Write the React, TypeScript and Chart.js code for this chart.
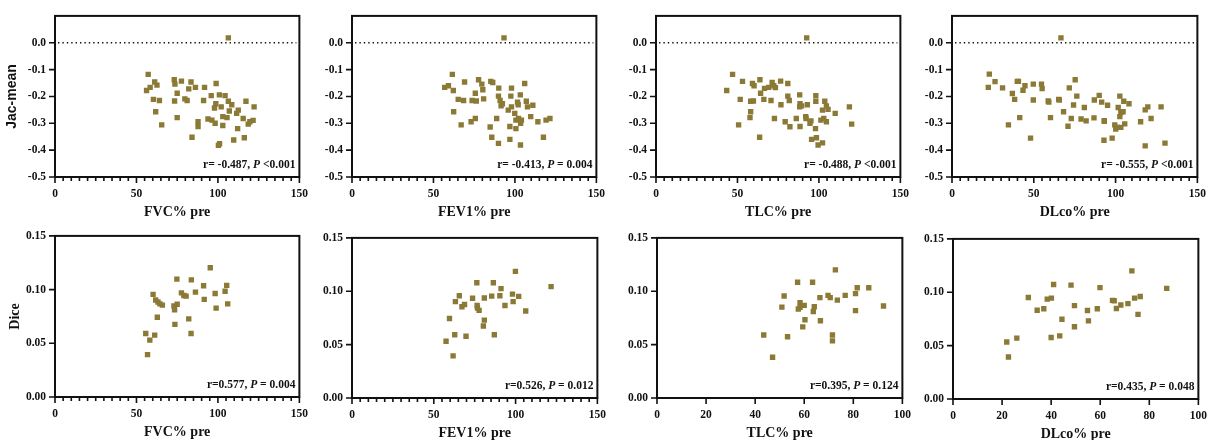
import React, { useEffect, useRef } from 'react';
import { Chart, registerables } from 'chart.js';

Chart.register(...registerables);

type Pt = [number, number];

// ---------- data ----------
const fvcJac: Pt[] = [
  [106.4, 0.018], [57.2, -0.118], [56.2, -0.178], [58.4, -0.166], [61.2, -0.146], [62.6, -0.158],
  [60.4, -0.211], [64.1, -0.215], [61.8, -0.257], [65.5, -0.306], [73.2, -0.138], [73.6, -0.154],
  [77.6, -0.143], [75.0, -0.188], [73.4, -0.217], [75.0, -0.279], [79.7, -0.209], [81.1, -0.215],
  [83.5, -0.146], [82.1, -0.172], [86.2, -0.166], [84.1, -0.352], [91.8, -0.166], [91.2, -0.215],
  [87.8, -0.294], [87.8, -0.312], [98.9, -0.152], [95.9, -0.197], [93.9, -0.284], [96.3, -0.288],
  [98.3, -0.300], [97.9, -0.243], [98.7, -0.227], [100.9, -0.194], [102.0, -0.239], [103.0, -0.275],
  [103.0, -0.308], [101.0, -0.376], [100.3, -0.382], [104.4, -0.197], [105.6, -0.279], [106.4, -0.218],
  [107.0, -0.254], [108.5, -0.231], [109.7, -0.362], [111.5, -0.263], [112.5, -0.251], [112.1, -0.320],
  [115.5, -0.282], [116.2, -0.354], [117.2, -0.218], [118.6, -0.303], [119.6, -0.294], [121.6, -0.289],
  [122.2, -0.239],
];

const fev1Jac: Pt[] = [
  [93.3, 0.018], [56.9, -0.166], [59.2, -0.160], [61.6, -0.118], [62.2, -0.178], [62.4, -0.257],
  [65.2, -0.211], [68.5, -0.215], [69.1, -0.146], [67.0, -0.306], [73.1, -0.294], [73.7, -0.215],
  [75.7, -0.188], [76.3, -0.217], [75.7, -0.282], [77.7, -0.138], [79.7, -0.154], [80.3, -0.175],
  [80.8, -0.209], [85.2, -0.144], [86.4, -0.148], [84.8, -0.314], [85.8, -0.352], [88.8, -0.282],
  [89.9, -0.375], [90.1, -0.169], [89.9, -0.199], [90.9, -0.215], [91.5, -0.235], [92.3, -0.227],
  [95.9, -0.251], [97.9, -0.169], [97.5, -0.199], [97.9, -0.239], [96.9, -0.312], [96.9, -0.360],
  [99.9, -0.263], [100.6, -0.288], [100.6, -0.320], [101.6, -0.221], [102.0, -0.231], [103.3, -0.194],
  [102.2, -0.282], [103.5, -0.300], [103.4, -0.381], [104.0, -0.288], [106.0, -0.152], [107.0, -0.218],
  [107.7, -0.239], [109.7, -0.275], [111.0, -0.233], [114.1, -0.294], [117.5, -0.352], [119.1, -0.288],
  [121.5, -0.282],
];

const tlcJac: Pt[] = [
  [92.5, 0.018], [43.4, -0.178], [47.0, -0.118], [51.7, -0.211], [53.1, -0.144], [50.7, -0.306],
  [58.1, -0.218], [59.2, -0.152], [60.2, -0.160], [59.8, -0.217], [58.1, -0.257], [57.7, -0.279],
  [63.8, -0.138], [64.2, -0.188], [66.2, -0.211], [66.6, -0.170], [63.6, -0.352], [69.2, -0.166],
  [70.6, -0.215], [71.3, -0.148], [72.3, -0.160], [73.3, -0.167], [72.7, -0.282], [76.5, -0.143],
  [76.7, -0.231], [79.3, -0.294], [80.9, -0.152], [80.9, -0.199], [81.8, -0.215], [82.2, -0.313],
  [86.1, -0.282], [88.2, -0.194], [88.4, -0.227], [88.2, -0.239], [88.4, -0.312], [89.4, -0.235],
  [91.9, -0.275], [92.9, -0.231], [92.1, -0.282], [94.5, -0.300], [95.1, -0.291], [95.5, -0.360],
  [98.1, -0.197], [98.1, -0.218], [97.9, -0.320], [98.5, -0.354], [99.5, -0.381], [101.2, -0.288],
  [102.2, -0.251], [102.2, -0.373], [103.0, -0.282], [103.6, -0.218], [104.6, -0.235], [104.6, -0.294],
  [105.6, -0.248], [110.0, -0.263], [118.7, -0.239], [120.1, -0.303],
];

const dlcoJac: Pt[] = [
  [66.6, 0.018], [22.8, -0.117], [22.2, -0.166], [26.3, -0.145], [30.9, -0.168], [34.5, -0.306],
  [36.9, -0.189], [38.3, -0.211], [39.9, -0.144], [40.6, -0.144], [41.4, -0.279], [43.4, -0.177],
  [44.6, -0.160], [48.0, -0.355], [49.7, -0.154], [49.7, -0.213], [54.7, -0.154], [55.1, -0.171],
  [58.8, -0.217], [59.2, -0.221], [60.2, -0.279], [65.2, -0.211], [65.6, -0.213], [68.2, -0.257],
  [70.9, -0.311], [71.7, -0.168], [72.9, -0.282], [74.3, -0.232], [75.3, -0.138], [76.3, -0.199],
  [78.9, -0.284], [80.9, -0.241], [82.0, -0.291], [86.8, -0.280], [87.0, -0.213], [90.0, -0.196],
  [91.5, -0.221], [93.1, -0.290], [93.1, -0.293], [92.9, -0.363], [95.1, -0.233], [97.9, -0.355],
  [99.5, -0.306], [100.1, -0.321], [101.1, -0.315], [101.6, -0.241], [102.6, -0.199], [102.6, -0.275],
  [103.2, -0.260], [103.2, -0.315], [104.6, -0.257], [105.0, -0.218], [105.6, -0.302], [108.2, -0.227],
  [115.3, -0.294], [118.1, -0.250], [118.1, -0.384], [119.7, -0.239], [121.7, -0.282], [127.8, -0.239],
  [130.2, -0.374],
];

const fvcDice: Pt[] = [
  [55.7, 0.0591], [56.8, 0.0394], [58.2, 0.0530], [60.2, 0.0955], [61.2, 0.0576], [61.8, 0.0903],
  [62.8, 0.0742], [63.2, 0.0885], [64.4, 0.0867], [65.9, 0.0855], [73.0, 0.0848], [73.4, 0.0812],
  [73.6, 0.0676], [75.0, 0.0864], [74.8, 0.1097], [77.6, 0.0970], [79.1, 0.0945], [80.5, 0.0939],
  [82.1, 0.0727], [83.5, 0.0591], [83.7, 0.1091], [86.2, 0.0976], [91.2, 0.1036], [91.6, 0.0909],
  [95.3, 0.1203], [98.3, 0.0964], [98.9, 0.0827], [104.4, 0.0985], [105.4, 0.1039], [106.0, 0.0867],
];

const fev1Dice: Pt[] = [
  [57.5, 0.0532], [59.6, 0.0745], [61.8, 0.0395], [62.8, 0.0593], [63.2, 0.0903], [65.6, 0.0958],
  [67.2, 0.0855], [68.8, 0.0876], [69.7, 0.0578], [73.7, 0.0934], [76.3, 0.1080], [76.5, 0.0867],
  [76.7, 0.0843], [77.7, 0.0821], [80.3, 0.0675], [80.9, 0.0730], [80.9, 0.0937], [85.4, 0.0955],
  [86.4, 0.1080], [87.0, 0.0593], [90.4, 0.0958], [91.1, 0.1025], [93.5, 0.0867], [98.1, 0.0973],
  [98.5, 0.0903], [99.9, 0.1186], [101.9, 0.0952], [106.2, 0.0815], [121.7, 0.1043],
];

const tlcDice: Pt[] = [
  [43.5, 0.0590], [47.1, 0.0382], [50.9, 0.0852], [51.8, 0.0956], [53.2, 0.0574], [57.3, 0.1085],
  [57.6, 0.0834], [58.3, 0.0892], [58.3, 0.0849], [59.4, 0.0666], [60.0, 0.0868], [60.3, 0.0733],
  [63.4, 0.1085], [63.7, 0.0810], [64.1, 0.0855], [66.4, 0.0941], [66.6, 0.0724], [69.7, 0.0962],
  [70.6, 0.0941], [71.5, 0.0590], [71.5, 0.0535], [72.7, 0.1201], [73.5, 0.0917], [76.7, 0.0962],
  [80.9, 0.0978], [80.9, 0.0819], [81.6, 0.1033], [86.3, 0.1033], [92.3, 0.0862],
];

const dlcoDice: Pt[] = [
  [21.9, 0.0534], [22.6, 0.0393], [26.0, 0.0570], [30.7, 0.0951], [34.3, 0.0832], [37.0, 0.0845],
  [38.4, 0.0936], [40.1, 0.0945], [40.0, 0.0576], [41.0, 0.1073], [43.5, 0.0591], [44.4, 0.0747],
  [48.1, 0.1067], [49.5, 0.0875], [49.5, 0.0677], [54.8, 0.0829], [55.2, 0.0732], [58.8, 0.0845],
  [59.9, 0.1043], [65.0, 0.0924], [65.7, 0.0921], [66.6, 0.0848], [68.4, 0.0881], [71.3, 0.0893],
  [72.9, 0.1201], [74.0, 0.0945], [75.4, 0.0793], [76.3, 0.0960], [87.1, 0.1037],
];

const xTitles = ['FVC% pre', 'FEV1% pre', 'TLC% pre', 'DLco% pre'];
const yTitles = ['Jac-mean', 'Dice'];
const topStats = [
  ['r= -0.487, ', 'P', ' <0.001'],
  ['r= -0.413, ', 'P', ' = 0.004'],
  ['r= -0.488, ', 'P', ' <0.001'],
  ['r= -0.555, ', 'P', ' <0.001'],
];
const bottomStats = [
  ['r=0.577, ', 'P', ' = 0.004'],
  ['r=0.526, ', 'P', ' = 0.012'],
  ['r=0.395, ', 'P', ' = 0.124'],
  ['r=0.435, ', 'P', ' = 0.048'],
];
const jacRange = [-0.5, 0.1, 0.1, 0.0]; // min, max, step, last labelled tick
const diceRange = [0, 0.15, 0.05, 0.15];
const refLineValue = 0;

// ---------- styling / layout ----------
const MARKER = '#8b7936';
const INK = '#111111';
const SERIF = '"Liberation Serif", "Times New Roman", serif';
const SANS = '"Liberation Sans", Arial, sans-serif';

type Spec = {
  pts: Pt[];
  row: number;
  col: number;
  xMax: number;
  xMajor: number;
  xMinor: number | null;
  box: [number, number, number, number];
};

const specs: Spec[] = [
  { pts: fvcJac, row: 0, col: 0, xMax: 150, xMajor: 50, xMinor: 5, box: [55, 302, 12, 177] },
  { pts: fev1Jac, row: 0, col: 1, xMax: 150, xMajor: 50, xMinor: 5, box: [352, 599, 12, 177] },
  { pts: tlcJac, row: 0, col: 2, xMax: 150, xMajor: 50, xMinor: 5, box: [656, 903, 12, 177] },
  { pts: dlcoJac, row: 0, col: 3, xMax: 150, xMajor: 50, xMinor: 5, box: [952, 1200, 12, 177] },
  { pts: fvcDice, row: 1, col: 0, xMax: 150, xMajor: 50, xMinor: 5, box: [55, 302, 232, 397] },
  { pts: fev1Dice, row: 1, col: 1, xMax: 150, xMajor: 50, xMinor: 5, box: [352, 600, 234, 398] },
  { pts: tlcDice, row: 1, col: 2, xMax: 100, xMajor: 20, xMinor: null, box: [657, 905, 234, 398] },
  { pts: dlcoDice, row: 1, col: 3, xMax: 100, xMajor: 20, xMinor: null, box: [953, 1201, 235, 399] },
];

const YW = 55;
const PT = 12;
const PR = 16;
const XH = 44;

function Panel({ spec }: { spec: Spec }) {
  const ref = useRef<HTMLCanvasElement | null>(null);
  const [L, R, T, B] = spec.box;
  const w = R - L + YW + PR;
  const h = B - T + PT + XH;

  useEffect(() => {
    const isTop = spec.row === 0;
    const [yMin, yMax, yStep, yLabelMax] = isTop ? jacRange : diceRange;
    const dec = isTop ? 1 : 2;
    const stat = isTop ? topStats[spec.col] : bottomStats[spec.col];
    const showYTitle = spec.col === 0;
    const tickFont = { family: SERIF, weight: 'bold' as const, size: 11.5 };

    const overlay = {
      id: 'overlay',
      beforeDatasetsDraw(chart: any) {
        if (!isTop) return;
        const { ctx, chartArea: a, scales } = chart;
        const py = scales.y.getPixelForValue(refLineValue);
        ctx.save();
        ctx.strokeStyle = INK;
        ctx.lineWidth = 1.4;
        ctx.setLineDash([1.4, 3]);
        ctx.beginPath();
        ctx.moveTo(a.left + 3, py);
        ctx.lineTo(a.right - 3, py);
        ctx.stroke();
        ctx.restore();
      },
      afterDraw(chart: any) {
        const { ctx, chartArea: a, scales } = chart;
        ctx.save();
        ctx.strokeStyle = INK;
        ctx.lineWidth = 2;
        ctx.strokeRect(a.left, a.top, a.right - a.left, a.bottom - a.top);
        ctx.lineWidth = 1.6;
        ctx.beginPath();
        const step = spec.xMinor || spec.xMajor;
        const n = Math.round(spec.xMax / step);
        for (let i = 0; i <= n; i++) {
          const v = i * step;
          const px = scales.x.getPixelForValue(v);
          const r = v / spec.xMajor;
          const major = Math.abs(r - Math.round(r)) < 1e-6;
          const len = major ? 6 : 4;
          ctx.moveTo(px, a.bottom);
          ctx.lineTo(px, a.bottom + len);
        }
        for (const t of scales.y.ticks) {
          const py = scales.y.getPixelForValue(t.value);
          ctx.moveTo(a.left - 6, py);
          ctx.lineTo(a.left, py);
        }
        ctx.stroke();

        // statistics annotation
        const size = 11.5;
        const fonts = [
          `bold ${size}px ${SERIF}`,
          `italic bold ${size}px ${SERIF}`,
          `bold ${size}px ${SERIF}`,
        ];
        let total = 0;
        const widths = stat.map((s, i) => {
          ctx.font = fonts[i];
          const wd = ctx.measureText(s).width;
          total += wd;
          return wd;
        });
        let x = a.right - 4 - total;
        const y = a.bottom - 9;
        ctx.fillStyle = INK;
        ctx.textBaseline = 'alphabetic';
        ctx.textAlign = 'left';
        stat.forEach((s, i) => {
          ctx.font = fonts[i];
          ctx.fillText(s, x, y);
          x += widths[i];
        });
        ctx.restore();
      },
    };

    const chart = new Chart(ref.current as HTMLCanvasElement, {
      type: 'scatter',
      data: {
        datasets: [
          {
            data: spec.pts.map(([x, y]) => ({ x, y })),
            pointStyle: 'rect',
            pointRadius: 3.8,
            backgroundColor: MARKER,
            borderColor: MARKER,
            borderWidth: 0,
          },
        ],
      },
      options: {
        responsive: false,
        animation: false,
        events: [],
        layout: { padding: { left: 0, top: PT, right: PR, bottom: 0 } },
        plugins: { legend: { display: false }, tooltip: { enabled: false } },
        scales: {
          x: {
            type: 'linear',
            position: 'bottom',
            min: 0,
            max: spec.xMax,
            grid: { display: false, drawTicks: false },
            border: { display: false },
            ticks: {
              stepSize: spec.xMajor,
              font: tickFont,
              color: INK,
              padding: 10,
              maxRotation: 0,
              autoSkip: false,
            },
            title: {
              display: true,
              text: xTitles[spec.col],
              font: { family: SERIF, weight: 'bold', size: 14 },
              color: INK,
              padding: { top: 0, bottom: 0 },
            },
            afterFit: (s: any) => {
              s.height = XH;
            },
          },
          y: {
            type: 'linear',
            min: yMin,
            max: yMax,
            grid: { display: false, drawTicks: false },
            border: { display: false },
            ticks: {
              stepSize: yStep,
              font: tickFont,
              color: INK,
              padding: 9,
              callback: (v: any) => {
                const n = Number(v);
                return (Math.abs(n) < 1e-9 ? 0 : n).toFixed(dec);
              },
            },
            afterBuildTicks: (s: any) => {
              s.ticks = s.ticks.filter((t: any) => t.value <= yLabelMax + 1e-9);
            },
            title: {
              display: showYTitle,
              text: isTop ? yTitles[0] : yTitles[1],
              font: isTop
                ? { family: SANS, weight: 'bold', size: 14 }
                : { family: SERIF, weight: 'bold', size: 14 },
              color: INK,
              padding: { top: isTop ? 4 : 6.5, bottom: 0 },
            },
            afterFit: (s: any) => {
              s.width = YW;
            },
          },
        },
      },
      plugins: [overlay],
    } as any);
    return () => chart.destroy();
  }, []);

  return (
    <canvas
      ref={ref}
      width={w}
      height={h}
      style={{ position: 'absolute', left: L - YW, top: T - PT, width: w, height: h }}
    />
  );
}

export default function App() {
  return (
    <div
      style={{
        position: 'absolute',
        left: 0,
        top: 0,
        width: 1213,
        height: 440,
        background: '#ffffff',
        overflow: 'hidden',
      }}
    >
      {specs.map((s, i) => (
        <Panel key={i} spec={s} />
      ))}
    </div>
  );
}
